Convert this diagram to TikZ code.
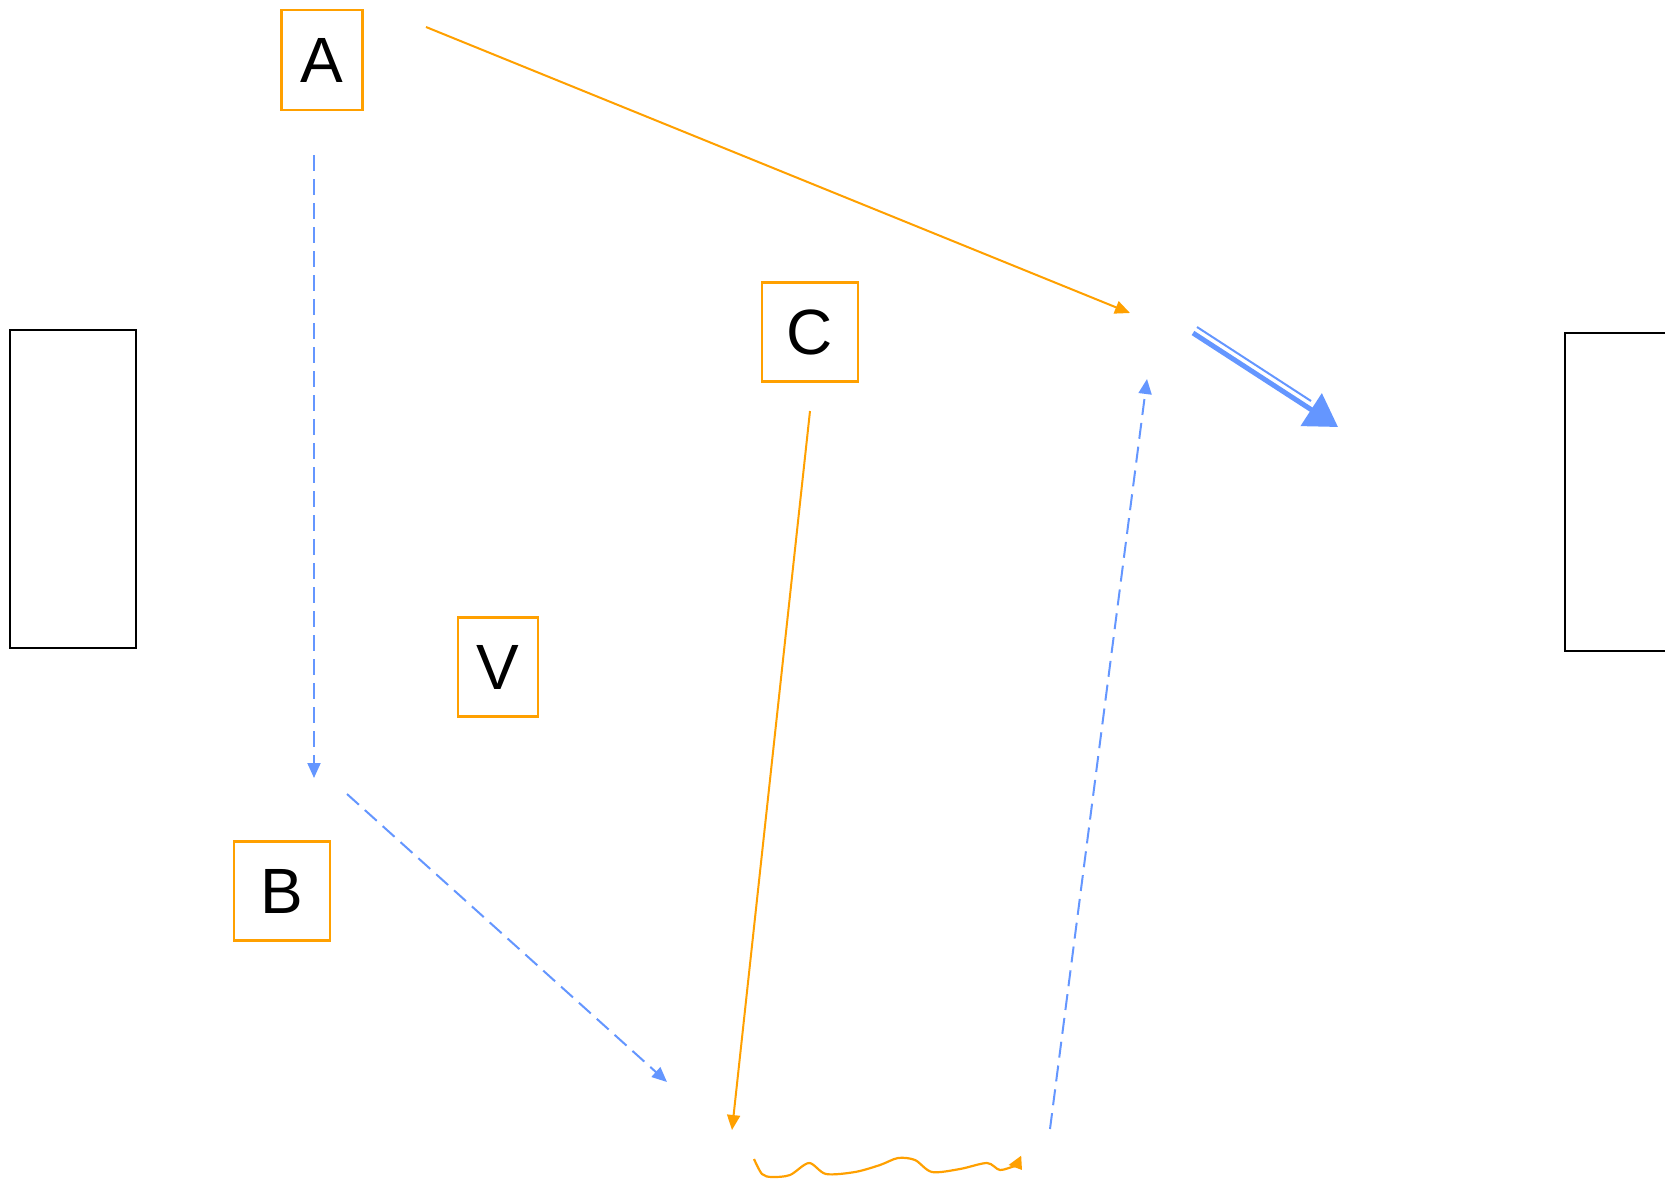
\documentclass[tikz,border=0pt]{standalone}
\usepackage{fontspec}
\setmainfont{Liberation Sans}
\usetikzlibrary{arrows.meta}
\definecolor{cblue}{RGB}{100,150,255}
\definecolor{corange}{RGB}{255,160,0}
\tikzset{
  px/.style={x=1pt,y=-1pt},
  lbl/.style={draw=corange,line width=2.2pt,minimum width=#1,minimum height=99pt,inner sep=0pt,font=\fontsize{64}{70}\selectfont},
  side/.style={draw=black,line width=2.2pt,minimum width=126pt,minimum height=318pt,inner sep=0pt},
  oarr/.style={corange,line width=2pt,-{Triangle[length=15pt,width=13pt]}},
  barr/.style={cblue,line width=2pt,dash pattern=on 16pt off 8pt,-{Triangle[length=15pt,width=13pt]}},
}
\begin{document}
\begin{tikzpicture}[px]
    \useasboundingbox (0,0) rectangle (1665,1178);
    \clip (0,0) rectangle (1665,1178);
    % boxes
    \node[lbl=81pt,minimum height=100pt] (A) at (322,60) {A};
    \node[lbl=96pt] (C) at (810,332) {C};
    \node[lbl=80pt] (V) at (498,667) {V};
    \node[lbl=96pt] (B) at (282,891) {B};
    \node[side] (left) at (73,489) {};
    \node[side,anchor=north west] (right) at (1564,332) {};
    % free ends
    \coordinate (a1) at (426,27);
    \coordinate (a2) at (1130,313);
    \coordinate (b1) at (314,155);
    \coordinate (b2) at (314,778);
    \coordinate (c1) at (347,794);
    \coordinate (c2) at (667,1082);
    \coordinate (d1) at (810,411);
    \coordinate (d2) at (732,1130);
    \coordinate (e1) at (1050,1129);
    \coordinate (e2) at (1147,379);
    \coordinate (f1) at (1193,333);
    \coordinate (f2) at (1338,427);
    % connectors
    \draw[oarr] (a1) -- (a2);
    \draw[barr] (b1) -- (b2);
    \draw[barr] (c1) -- (c2);
    \draw[oarr] (d1) -- (d2);
    \draw[barr] (e1) -- (e2);
    \draw[cblue,line width=5pt,-{Triangle[length=32pt,width=38pt]}] (f1) -- (f2);
    \draw[cblue,line width=2pt] (1197,327) -- (1311,401);
    % wavy line
    \draw[corange,line width=2.2pt,line join=round,-{Triangle[length=12pt,width=15pt]}]
      plot[smooth,tension=0.5] coordinates {(754,1159) (762,1174) (772,1177) (790,1175)
      (809,1163) (826,1174) (855,1172) (880,1165) (898,1158)
      (915,1160) (932,1172) (960,1169) (987,1163) (1000,1170)
      (1016,1166) (1022,1170)};
\end{tikzpicture}
\end{document}
